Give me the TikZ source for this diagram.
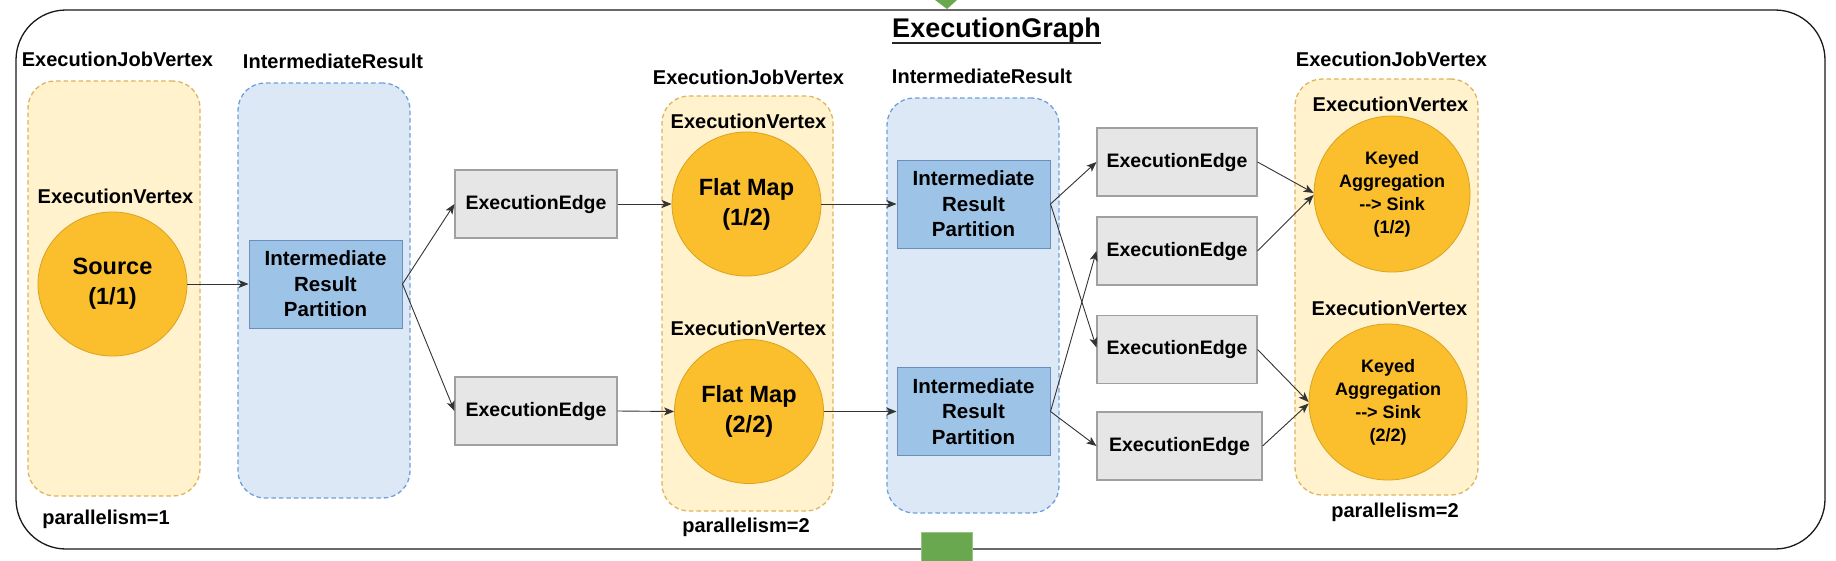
\documentclass[tikz,border=0pt]{standalone}
\usepackage{fontspec}
\setmainfont{Liberation Sans}
\usetikzlibrary{shapes.geometric,arrows.meta}
\definecolor{jvfill}{HTML}{FFF2CC}
\definecolor{jvline}{HTML}{DDB55E}
\definecolor{irfill}{HTML}{DCE8F6}
\definecolor{irline}{HTML}{6F9FDB}
\definecolor{opfill}{HTML}{FBBF2D}
\definecolor{opline}{HTML}{D9A21F}
\definecolor{rpfill}{HTML}{9DC3E6}
\definecolor{rpline}{HTML}{6C8EBF}
\definecolor{eefill}{HTML}{E6E6E6}
\definecolor{eeline}{HTML}{A0A0A0}
\definecolor{grn}{HTML}{6AA84F}
\begin{document}
\begin{tikzpicture}[x=1pt,y=-1pt,
  lbl/.style={inner sep=0pt, font=\fontsize{20}{24}\selectfont\bfseries, text height=14.3pt, text depth=0pt},
  jvbox/.style={draw=jvline, fill=jvfill, dash pattern=on 4.5pt off 3pt, rounded corners=27pt, line width=1.3pt, inner sep=0pt},
  irbox/.style={draw=irline, fill=irfill, dash pattern=on 4.5pt off 3pt, rounded corners=27pt, line width=1.3pt, inner sep=0pt},
  opnode/.style={ellipse, draw=opline, fill=opfill, line width=0.8pt, inner sep=0pt, align=center},
  rpnode/.style={draw=rpline, fill=rpfill, line width=1pt, inner sep=0pt, minimum width=153, minimum height=88, align=center, font=\fontsize{20.5}{25.5}\selectfont\bfseries},
  eenode/.style={draw=eeline, fill=eefill, line width=1.1pt, inner sep=0pt, minimum height=68, font=\fontsize{19.5}{23}\selectfont\bfseries},
  arr/.style={draw=black!80, line width=0.9pt, -{Stealth[length=10pt,width=8pt,inset=2.5pt]}}
]
\useasboundingbox (0,0) rectangle (1836,560);
\clip (0,0) rectangle (1836,560);
\fill[white] (0,0) rectangle (1836,560);

% outer frame
\node[draw=black!90, line width=1.3pt, rounded corners=50pt, minimum width=1809, minimum height=539, inner sep=0pt] (graph) at (920.5,279.5) {};

% title
\node[anchor=base, inner sep=0pt, font=\fontsize{27}{32}\selectfont\bfseries] (title) at (996.5,37) {ExecutionGraph};
\draw[line width=1.3pt, black!85] ([yshift=-6pt]title.base west) -- ([yshift=-6pt]title.base east);

% containers
\node[jvbox, minimum width=172, minimum height=415] (jv1) at (114,288.5) {};
\node[irbox, minimum width=172, minimum height=415] (ir1) at (324,290.5) {};
\node[jvbox, minimum width=171, minimum height=415] (jv2) at (747.5,303.5) {};
\node[irbox, minimum width=172, minimum height=415] (ir2) at (973,305.5) {};
\node[jvbox, minimum width=183, minimum height=416] (jv3) at (1386.5,287) {};

% labels
\node[lbl] (ljv1) at (117.5,59) {ExecutionJobVertex};
\node[lbl] (lir1) at (333,61) {IntermediateResult};
\node[lbl] (lev1) at (115.5,196) {ExecutionVertex};
\node[lbl] (lpar1) at (106,517) {parallelism=1};

\node[lbl] (ljv2) at (748.5,77) {ExecutionJobVertex};
\node[lbl] (lev2a) at (748.5,121) {ExecutionVertex};
\node[lbl] (lev2b) at (748.5,328) {ExecutionVertex};
\node[lbl] (lpar2) at (746,525) {parallelism=2};

\node[lbl] (lir2) at (982,76) {IntermediateResult};

\node[lbl] (ljv3) at (1391.5,59) {ExecutionJobVertex};
\node[lbl] (lev3a) at (1390.5,104) {ExecutionVertex};
\node[lbl] (lev3b) at (1389.5,308) {ExecutionVertex};
\node[lbl] (lpar3) at (1395,510) {parallelism=2};

% operators
\node[opnode, minimum width=149, minimum height=144, font=\fontsize{23.5}{30}\selectfont\bfseries] (src) at (112.5,284) {Source\\(1/1)};
\node[opnode, minimum width=149, minimum height=144, font=\fontsize{23.5}{30}\selectfont\bfseries] (fm1) at (746.5,204) {Flat Map\\(1/2)};
\node[opnode, minimum width=149, minimum height=144, font=\fontsize{23.5}{30}\selectfont\bfseries] (fm2) at (749,411.5) {Flat Map\\(2/2)};
\node[opnode, minimum width=156, minimum height=156, font=\fontsize{18}{23}\selectfont\bfseries] (ka1) at (1392,194) {Keyed\\Aggregation\\-{}-{}> Sink\\(1/2)};
\node[opnode, minimum width=158, minimum height=156, font=\fontsize{18}{23}\selectfont\bfseries] (ka2) at (1388,402) {Keyed\\Aggregation\\-{}-{}> Sink\\(2/2)};

% result partitions
\node[rpnode] (irp1) at (325.5,284) {Intermediate\\Result\\Partition};
\node[rpnode] (irp2) at (973.5,204) {Intermediate\\Result\\Partition};
\node[rpnode] (irp3) at (973.5,411.5) {Intermediate\\Result\\Partition};

% execution edges
\node[eenode, minimum width=162] (ee1) at (536,204) {ExecutionEdge};
\node[eenode, minimum width=162] (ee2) at (536,411) {ExecutionEdge};
\node[eenode, minimum width=160] (ee3) at (1177,162) {ExecutionEdge};
\node[eenode, minimum width=160] (ee4) at (1177,251) {ExecutionEdge};
\node[eenode, minimum width=160] (ee5) at (1177,349.5) {ExecutionEdge};
\node[eenode, minimum width=165] (ee6) at (1179.5,446) {ExecutionEdge};

% connectors
\draw[arr] (src.east) -- (irp1.west);
\draw[arr] (irp1.east) -- (ee1.west);
\draw[arr] (irp1.east) -- (ee2.west);
\draw[arr] (ee1.east) -- (fm1.west);
\draw[arr] (ee2.east) -- (fm2.west);
\draw[arr] (fm1.east) -- (irp2.west);
\draw[arr] (fm2.east) -- (irp3.west);
\draw[arr] (irp2.east) -- (ee3.west);
\draw[arr] (irp2.east) -- ([yshift=2pt]ee5.west);
\draw[arr] (irp3.east) -- (ee4.west);
\draw[arr] (irp3.east) -- (ee6.west);
\draw[arr] (ee3.east) -- ([yshift=1pt]ka1.west);
\draw[arr] (ee4.east) -- ([yshift=-1pt]ka1.west);
\draw[arr] (ee5.east) -- ([yshift=0pt]ka2.west);
\draw[arr] (ee6.east) -- ([yshift=-1.5pt]ka2.west);

% green markers
\fill[grn] (935,0) -- (957,0) -- (947,9) -- cycle;
\draw[grn!70!white, fill=grn, line width=0.8pt] (921,532) rectangle (972,562);
\end{tikzpicture}
\end{document}
